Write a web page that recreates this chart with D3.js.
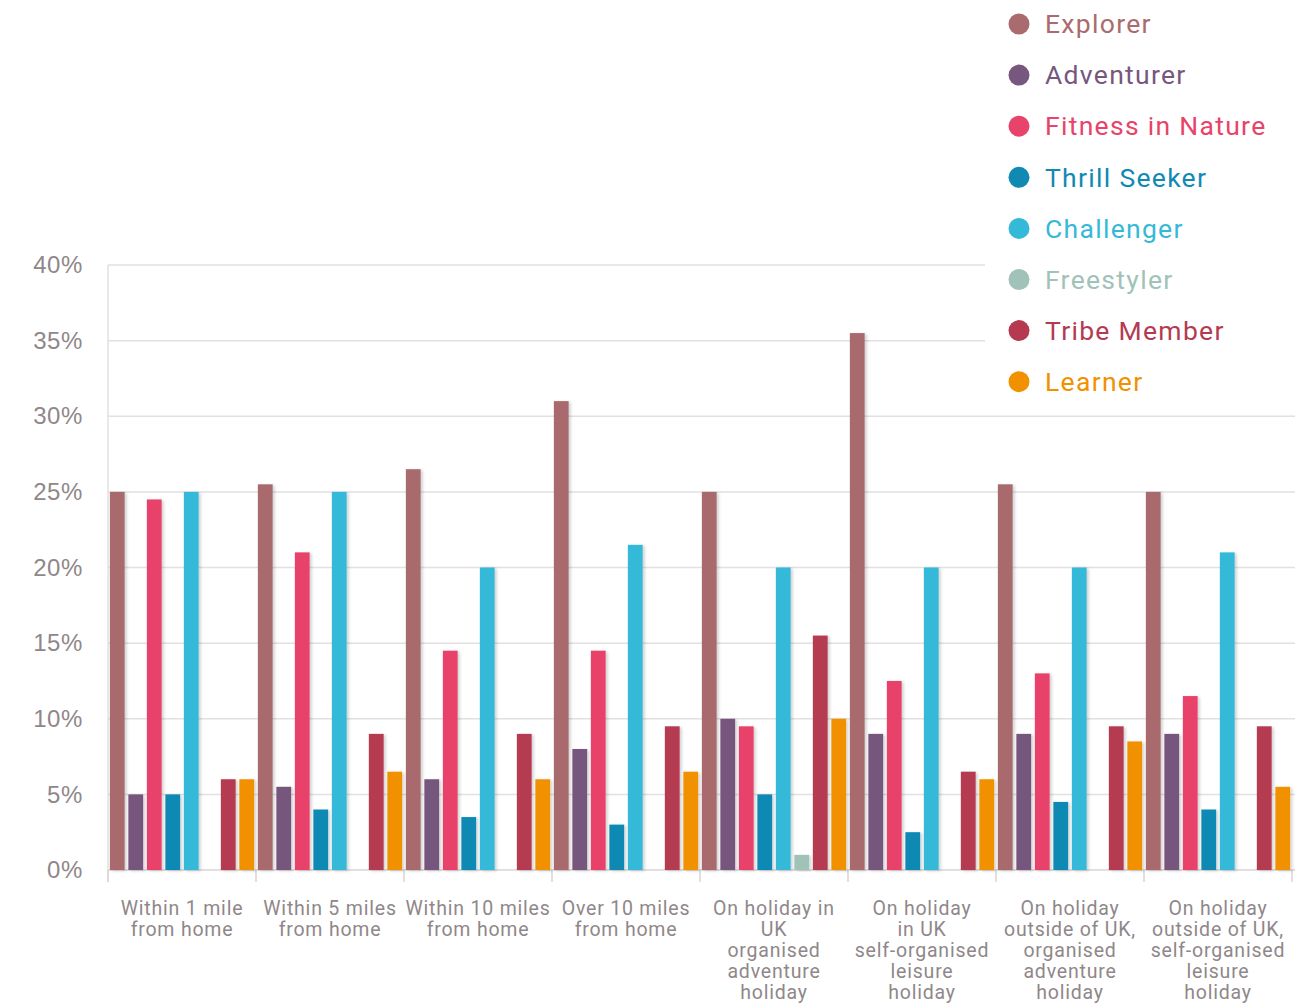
<!DOCTYPE html>
<html>
<head>
<meta charset="utf-8">
<script src="https://cdn.jsdelivr.net/npm/d3@7"></script>
<style>
  html, body { margin: 0; padding: 0; background: #fff; }
  svg { display: block; font-family: Roboto, "DejaVu Sans", sans-serif; }
</style>
</head>
<body>
<svg id="chart" width="1313" height="1004"></svg>
<script>
// Where people take part, by segment (share of each segment, %)
const categories = [
  ["Within 1 mile", "from home"],
  ["Within 5 miles", "from home"],
  ["Within 10 miles", "from home"],
  ["Over 10 miles", "from home"],
  ["On holiday in", "UK", "organised", "adventure", "holiday"],
  ["On holiday", "in UK", "self-organised", "leisure", "holiday"],
  ["On holiday", "outside of UK,", "organised", "adventure", "holiday"],
  ["On holiday", "outside of UK,", "self-organised", "leisure", "holiday"]
];
const segments = ["Explorer", "Adventurer", "Fitness in Nature", "Thrill Seeker",
                  "Challenger", "Freestyler", "Tribe Member", "Learner"];
const segmentColors = ["#a96b6e", "#77577d", "#e8436a", "#1089b3",
                       "#35b9d8", "#a1c2b8", "#b53a51", "#f29100"];

const explorer    = [25, 25.5, 26.5, 31, 25, 35.5, 25.5, 25];
const adventurer  = [5, 5.5, 6, 8, 10, 9, 9, 9];
const fitness     = [24.5, 21, 14.5, 14.5, 9.5, 12.5, 13, 11.5];
const thrill      = [5, 4, 3.5, 3, 5, 2.5, 4.5, 4];
const challenger  = [25, 25, 20, 21.5, 20, 20, 20, 21];
const freestyler  = [0, 0, 0, 0, 1, 0, 0, 0];
const tribe       = [6, 9, 9, 9.5, 15.5, 6.5, 9.5, 9.5];
const learner     = [6, 6.5, 6, 6.5, 10, 6, 8.5, 5.5];

const yTicks = [0, 5, 10, 15, 20, 25, 30, 35, 40];

const series = [explorer, adventurer, fitness, thrill, challenger, freestyler, tribe, learner];

const svg = d3.select("#chart");
const textColor = "#8f8789";

const plotLeft = 108, plotRight = 1292, plotTop = 265, plotBottom = 870;

const x0 = d3.scaleBand().domain(d3.range(categories.length)).range([plotLeft, plotRight]).padding(0);
const x1 = d3.scaleBand().domain(d3.range(segments.length)).range([0, x0.bandwidth()])
  .paddingInner(0.2).paddingOuter(0.1);
const y = d3.scaleLinear().domain([0, 40]).range([plotBottom, plotTop]);

// soft drop shadow under the bars
const defs = svg.append("defs");
const f = defs.append("filter").attr("id", "barShadow")
  .attr("x", "-30%").attr("y", "-5%").attr("width", "180%").attr("height", "115%");
f.append("feDropShadow").attr("dx", 2).attr("dy", 1).attr("stdDeviation", 1.5)
  .attr("flood-color", "#000").attr("flood-opacity", 0.18);

// horizontal gridlines
svg.append("g").selectAll("line").data(yTicks.filter(d => d > 0)).join("line")
  .attr("x1", plotLeft).attr("x2", 1295)
  .attr("y1", d => y(d)).attr("y2", d => y(d))
  .attr("stroke", "#e2e0e0").attr("stroke-width", 1.5);

// y axis
const yAxis = svg.append("g").attr("transform", `translate(${plotLeft},0)`)
  .call(d3.axisLeft(y).tickValues(yTicks).tickFormat(d => d + "%").tickSize(0).tickPadding(25));
yAxis.select(".domain").remove();
yAxis.selectAll("text").attr("fill", textColor).attr("font-size", 24).attr("letter-spacing", 0.6);
svg.append("line").attr("x1", plotLeft).attr("x2", plotLeft).attr("y1", plotTop).attr("y2", plotBottom + 12)
  .attr("stroke", "#e2e0e0").attr("stroke-width", 1.5);

// x axis baseline and category ticks
svg.append("line").attr("x1", plotLeft).attr("x2", 1295).attr("y1", plotBottom).attr("y2", plotBottom)
  .attr("stroke", "#d8d4d4").attr("stroke-width", 1.5);
const tickXs = d3.range(categories.length).map(i => x0(i)).concat([plotRight]);
svg.append("g").selectAll("line").data(tickXs).join("line")
  .attr("x1", d => d).attr("x2", d => d)
  .attr("y1", plotBottom).attr("y2", plotBottom + 12)
  .attr("stroke", "#d8d4d4").attr("stroke-width", 1.5);

// bars
const groups = svg.append("g").selectAll("g").data(categories).join("g")
  .attr("transform", (d, i) => `translate(${x0(i)},0)`);
groups.selectAll("rect")
  .data((d, i) => series.map((s, k) => ({ k, v: s[i] })).filter(d => d.v > 0))
  .join("rect")
  .attr("x", d => x1(d.k))
  .attr("width", x1.bandwidth())
  .attr("y", d => y(d.v))
  .attr("height", d => y(0) - y(d.v))
  .attr("fill", d => segmentColors[d.k])
  .attr("filter", "url(#barShadow)");

// category labels
const labels = svg.append("g").selectAll("text").data(categories).join("text")
  .attr("text-anchor", "middle")
  .attr("fill", textColor)
  .attr("font-size", 19.5)
  .attr("letter-spacing", 0.8)
  .attr("transform", (d, i) => `translate(${x0(i) + x0.bandwidth() / 2},915)`);
labels.selectAll("tspan").data(d => d).join("tspan")
  .attr("x", 0).attr("dy", (d, i) => i === 0 ? 0 : 21.1)
  .text(d => d);

// legend panel
svg.append("rect").attr("x", 985).attr("y", 0).attr("width", 328).attr("height", 400).attr("fill", "#fff");
const legend = svg.append("g").selectAll("g").data(segments).join("g")
  .attr("transform", (d, i) => `translate(1019,${24 + i * 51.1})`);
legend.append("circle").attr("r", 10.5).attr("fill", (d, i) => segmentColors[i]);
legend.append("text").attr("x", 26).attr("dy", "0.35em")
  .attr("font-size", 26.5).attr("letter-spacing", 1.3)
  .attr("fill", (d, i) => segmentColors[i]).text(d => d);
</script>
</body>
</html>
